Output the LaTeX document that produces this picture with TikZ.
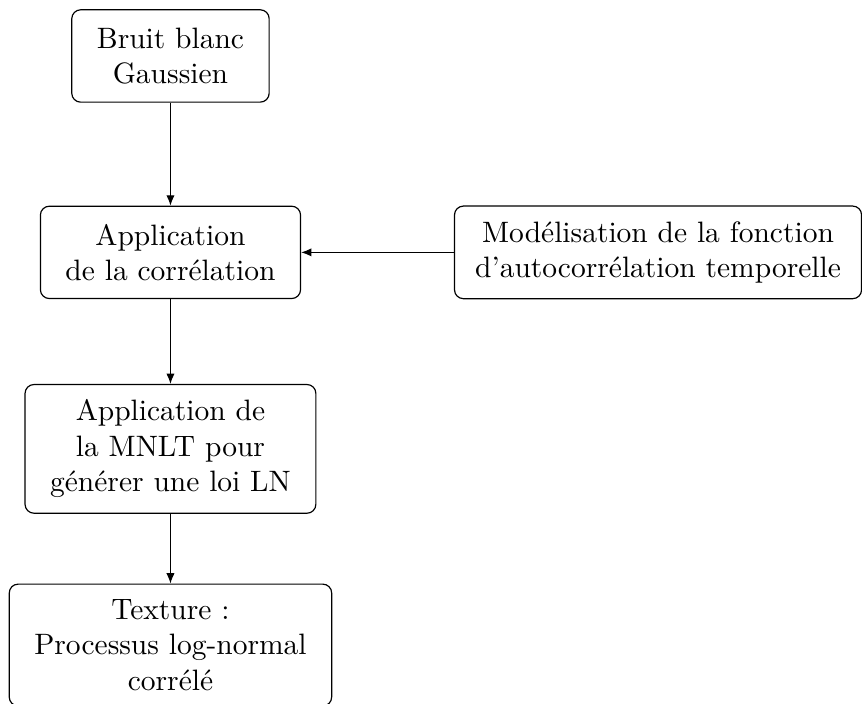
\documentclass[tikz,border=0pt]{standalone}
\usepackage{amsmath, amssymb}
\usepackage{tikz}
\usetikzlibrary{shapes, arrows.meta, positioning, calc}

\begin{document}
\begin{tikzpicture}[
        bloc/.style={rectangle, draw=black, rounded corners=3pt, align=center, inner xsep=8.5pt, inner ysep=5.2pt, minimum height=1.1cm},
        arrow/.style={-{Latex[length=3.5pt, width=2.8pt]}, draw=black}
    ]
        \useasboundingbox (0, 0) rectangle (10.27, -8.385);

        % Chaine principale (colonne de gauche)
        \node [bloc] (bruit) at (2.031, -0.667) {Bruit blanc\\Gaussien};
        \node [bloc] (correl) at (2.031, -3.007) {Application\\de la corrélation};
        \node [bloc] (mnlt) at (2.031, -5.348) {Application de\\la MNLT pour\\générer une loi LN};
        \node [bloc] (texture) at (2.031, -7.685) {Texture :\\Processus log-normal\\corrélé};

        % Modele de correlation (a droite)
        \node [bloc, inner xsep=7pt] (modele) at (7.84, -3.007) {Modélisation de la fonction\\d'autocorrélation temporelle};

        \draw [arrow] (bruit) -- (correl);
        \draw [arrow] (modele) -- (correl);
        \draw [arrow] (correl) -- (mnlt);
        \draw [arrow] (mnlt) -- (texture);
    \end{tikzpicture}
\end{document}
